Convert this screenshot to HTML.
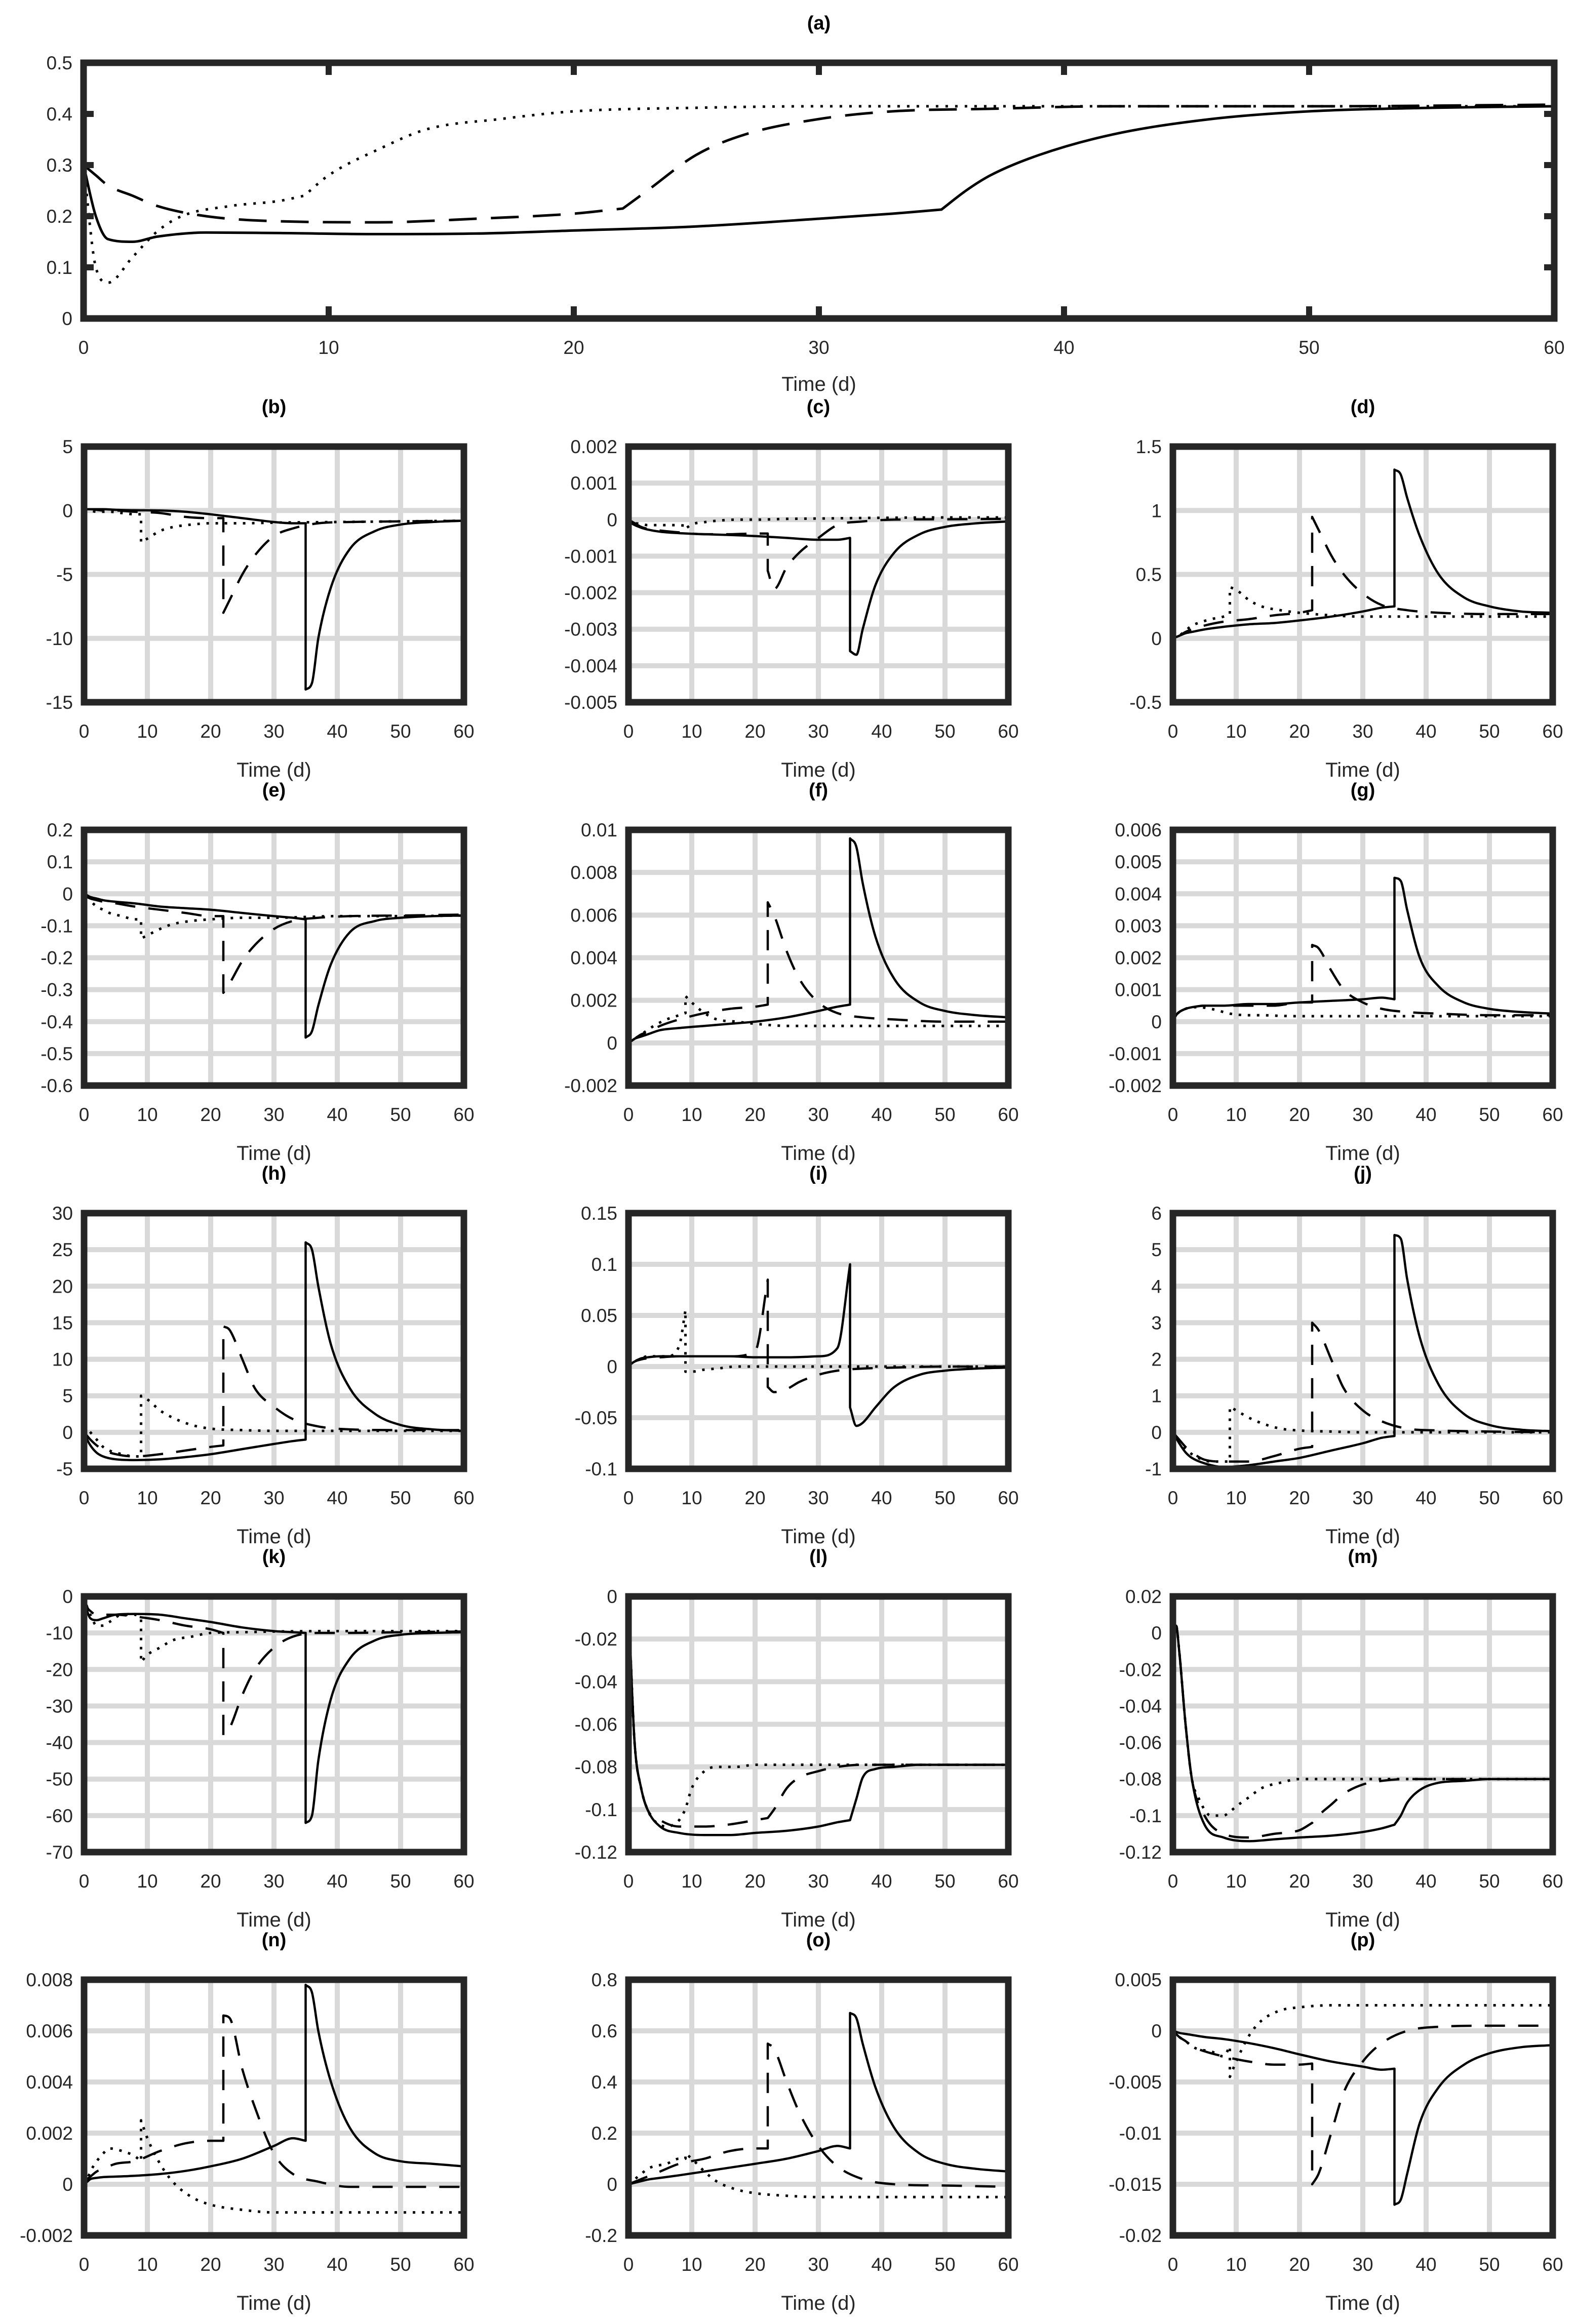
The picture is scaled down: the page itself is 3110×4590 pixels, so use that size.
<!DOCTYPE html>
<html><head><meta charset="utf-8">
<style>
html,body{margin:0;padding:0;background:#fff;}
svg{display:block;font-family:"Liberation Sans",Arial,sans-serif;}
</style></head>
<body>
<svg id="fig" xmlns="http://www.w3.org/2000/svg" width="3110" height="4590" viewBox="0 0 3110 4590"></svg>
<script>
// shared time grids
const tDot  =[0,0.5,1,2,3,4,6,8,9,9,10,12,14,17,20,25,30,40,50,60];
const tDash =[0,0.5,1,2,3,5,8,12,16,20,22,22,23,25,27,30,33,37,42,50,60];
const tSol  =[0,0.5,1,2,3,5,8,12,16,20,25,30,33,35,35,36,37,39,42,46,50,55,60];
const panelIds=['a','b','c','d','e','f','g','h','i','j','k','l','m','n','o','p'];
// y ranges
const yMin={a:0,b:-15,c:-0.005,d:-0.5,e:-0.6,f:-0.002,g:-0.002,h:-5,i:-0.1,j:-1,k:-70,l:-0.12,m:-0.12,n:-0.002,o:-0.2,p:-0.02};
const yMax={a:0.5,b:5,c:0.002,d:1.5,e:0.2,f:0.01,g:0.006,h:30,i:0.15,j:6,k:0,l:0,m:0.02,n:0.008,o:0.8,p:0.005};
const yTickLabels={
a:['0','0.1','0.2','0.3','0.4','0.5'],
b:['-15','-10','-5','0','5'],
c:['-0.005','-0.004','-0.003','-0.002','-0.001','0','0.001','0.002'],
d:['-0.5','0','0.5','1','1.5'],
e:['-0.6','-0.5','-0.4','-0.3','-0.2','-0.1','0','0.1','0.2'],
f:['-0.002','0','0.002','0.004','0.006','0.008','0.01'],
g:['-0.002','-0.001','0','0.001','0.002','0.003','0.004','0.005','0.006'],
h:['-5','0','5','10','15','20','25','30'],
i:['-0.1','-0.05','0','0.05','0.1','0.15'],
j:['-1','0','1','2','3','4','5','6'],
k:['-70','-60','-50','-40','-30','-20','-10','0'],
l:['-0.12','-0.1','-0.08','-0.06','-0.04','-0.02','0'],
m:['-0.12','-0.1','-0.08','-0.06','-0.04','-0.02','0','0.02'],
n:['-0.002','0','0.002','0.004','0.006','0.008'],
o:['-0.2','0','0.2','0.4','0.6','0.8'],
p:['-0.02','-0.015','-0.01','-0.005','0','0.005']
};
const xTickLabels=['0','10','20','30','40','50','60'];
// series values
const dotVals={
a:[0.3,0.1,0.07,0.12,0.17,0.2,0.22,0.23,0.24,0.24,0.28,0.33,0.37,0.39,0.405,0.412,0.415,0.415,0.415,0.415],
b:[0.1,0.05,0,-0.1,-0.1,-0.1,-0.2,-0.3,-0.3,-2.5,-2.2,-1.6,-1.3,-1.1,-1,-1,-0.95,-0.9,-0.85,-0.8],
c:[0,-0.0001,-0.0001,-0.00012,-0.00015,-0.00015,-0.00015,-0.00015,-0.00017,-0.00025,-0.00013,-0.00007,-0.00003,0,0,0.00002,0.00003,0.00005,0.00006,0.00006],
d:[0,0,0.02,0.06,0.1,0.12,0.15,0.17,0.19,0.4,0.38,0.3,0.25,0.22,0.2,0.18,0.17,0.17,0.17,0.17],
e:[0.02,0,-0.02,-0.04,-0.05,-0.06,-0.07,-0.08,-0.08,-0.14,-0.13,-0.11,-0.095,-0.085,-0.08,-0.075,-0.075,-0.07,-0.07,-0.068],
f:[0,0.0001,0.0002,0.0004,0.0006,0.0008,0.0011,0.0013,0.0014,0.0022,0.0019,0.0014,0.0011,0.001,0.0009,0.0008,0.0008,0.0008,0.0008,0.0008],
g:[0,0.0002,0.0003,0.0004,0.00045,0.00045,0.0004,0.0003,0.00025,0.00025,0.00022,0.0002,0.0002,0.00018,0.00017,0.00017,0.00017,0.00017,0.00017,0.00017],
h:[1,0.5,0,-1,-2,-2.5,-3,-3.3,-3.3,5,4.5,3,2,1,0.5,0.3,0.2,0.2,0.2,0.2],
i:[0,0.003,0.005,0.008,0.01,0.01,0.01,0.02,0.055,-0.005,-0.005,-0.003,-0.002,0,0,0,0,0,0,0],
j:[0,-0.1,-0.25,-0.45,-0.6,-0.7,-0.8,-0.8,-0.8,0.7,0.6,0.4,0.25,0.1,0.05,0.02,0,0,0,0],
k:[0,-3,-5,-8,-8,-7,-5,-5,-6,-18,-16,-14,-12,-11,-10,-9.8,-9.6,-9.5,-9.5,-9.5],
l:[0,-0.04,-0.07,-0.09,-0.1,-0.105,-0.108,-0.105,-0.1,-0.1,-0.09,-0.082,-0.08,-0.08,-0.079,-0.079,-0.079,-0.079,-0.079,-0.079],
m:[0,0.004,-0.01,-0.05,-0.08,-0.09,-0.1,-0.1,-0.098,-0.098,-0.095,-0.09,-0.085,-0.082,-0.08,-0.08,-0.08,-0.08,-0.08,-0.08],
n:[0,0.0002,0.0005,0.0009,0.0012,0.0014,0.0013,0.0011,0.0009,0.0025,0.0018,0.0008,0.0001,-0.0005,-0.0008,-0.001,-0.0011,-0.0011,-0.0011,-0.0011],
o:[0,0.01,0.02,0.04,0.06,0.07,0.08,0.1,0.1,0.12,0.1,0.05,0.01,-0.02,-0.035,-0.045,-0.05,-0.05,-0.05,-0.05],
p:[0,-0.0003,-0.0006,-0.001,-0.0015,-0.0018,-0.002,-0.0025,-0.0015,-0.0045,-0.003,-0.0005,0.001,0.002,0.0023,0.0025,0.0025,0.0025,0.0025,0.0025]
};
const dashVals={
a:[0.3,0.28,0.26,0.24,0.22,0.2,0.19,0.188,0.195,0.205,0.215,0.215,0.25,0.32,0.36,0.39,0.405,0.41,0.415,0.415,0.418],
b:[0.1,0.1,0.1,0.05,0,0,-0.1,-0.2,-0.5,-0.6,-0.6,-8,-7,-5,-3.5,-2,-1.4,-1,-0.9,-0.85,-0.8],
c:[0,-0.00005,-0.0001,-0.0002,-0.00025,-0.0003,-0.00035,-0.0004,-0.0004,-0.00038,-0.00038,-0.0014,-0.0019,-0.0013,-0.0009,-0.0005,-0.00015,-0.00005,0,0.00001,0.00002],
d:[0,0.01,0.02,0.05,0.07,0.1,0.13,0.15,0.18,0.2,0.22,0.95,0.85,0.65,0.5,0.35,0.26,0.22,0.2,0.19,0.19],
e:[0,-0.01,-0.015,-0.02,-0.025,-0.03,-0.04,-0.05,-0.06,-0.07,-0.07,-0.31,-0.28,-0.21,-0.16,-0.11,-0.085,-0.075,-0.07,-0.068,-0.065],
f:[0,0.0001,0.0002,0.0004,0.0005,0.0008,0.0011,0.0014,0.0016,0.0017,0.0018,0.0066,0.006,0.0043,0.003,0.0019,0.0014,0.0012,0.0011,0.001,0.001],
g:[0,0.0002,0.0003,0.0004,0.00045,0.0005,0.0005,0.0005,0.0005,0.0006,0.0006,0.0024,0.0023,0.0016,0.001,0.0006,0.0004,0.0003,0.00025,0.0002,0.0002],
h:[0,-0.5,-1,-1.8,-2.4,-3,-3.3,-3,-2.5,-2,-1.8,14.5,14,10,6,3.5,1.8,0.8,0.4,0.3,0.3],
i:[0,0.003,0.005,0.007,0.008,0.009,0.01,0.01,0.01,0.015,0.085,-0.02,-0.025,-0.022,-0.015,-0.008,-0.004,-0.002,-0.001,0,0],
j:[0,-0.1,-0.2,-0.4,-0.55,-0.75,-0.8,-0.8,-0.65,-0.45,-0.4,3,2.8,2,1.2,0.6,0.3,0.1,0.05,0.02,0],
k:[0,-3,-4,-5,-5,-5,-5.5,-6.5,-8,-9,-10,-38,-36,-27,-20,-14,-11,-10,-10,-9.8,-9.6],
l:[0,-0.04,-0.07,-0.09,-0.1,-0.105,-0.108,-0.108,-0.107,-0.105,-0.104,-0.104,-0.1,-0.09,-0.085,-0.082,-0.08,-0.079,-0.079,-0.079,-0.079],
m:[0,0.004,-0.01,-0.05,-0.08,-0.1,-0.11,-0.112,-0.11,-0.108,-0.104,-0.104,-0.1,-0.094,-0.088,-0.083,-0.081,-0.08,-0.08,-0.08,-0.08],
n:[0,0.0002,0.0003,0.0005,0.0006,0.0008,0.0009,0.0013,0.0016,0.0017,0.0017,0.0066,0.0065,0.0045,0.003,0.0012,0.0004,0.0001,-0.0001,-0.0001,-0.0001],
o:[0,0.005,0.01,0.02,0.03,0.05,0.08,0.1,0.13,0.14,0.14,0.55,0.53,0.4,0.28,0.15,0.07,0.02,0,-0.005,-0.01],
p:[0,-0.0003,-0.0006,-0.001,-0.0015,-0.002,-0.0025,-0.003,-0.0033,-0.0033,-0.0032,-0.015,-0.014,-0.01,-0.006,-0.003,-0.0012,0,0.0004,0.0005,0.0005]
};
const solVals={
a:[0.3,0.2,0.155,0.15,0.16,0.168,0.167,0.165,0.166,0.172,0.18,0.195,0.205,0.213,0.213,0.25,0.28,0.32,0.36,0.39,0.405,0.412,0.415],
b:[0.1,0.1,0.1,0.1,0.1,0.05,0.02,0,-0.1,-0.3,-0.6,-0.9,-1,-1,-14,-13.5,-10,-6,-3,-1.6,-1.1,-0.9,-0.8],
c:[0,-0.0001,-0.00015,-0.00022,-0.00027,-0.00033,-0.00037,-0.0004,-0.00042,-0.00045,-0.0005,-0.00055,-0.00055,-0.0005,-0.0036,-0.0037,-0.003,-0.0018,-0.0009,-0.0004,-0.0002,-0.0001,-0.00005],
d:[0,0.01,0.02,0.04,0.05,0.07,0.09,0.11,0.12,0.14,0.17,0.21,0.24,0.25,1.32,1.28,1.1,0.8,0.5,0.32,0.25,0.21,0.2],
e:[0,-0.005,-0.01,-0.015,-0.02,-0.025,-0.03,-0.04,-0.045,-0.05,-0.06,-0.07,-0.075,-0.08,-0.45,-0.43,-0.35,-0.22,-0.12,-0.085,-0.075,-0.07,-0.068],
f:[0,0.0001,0.0002,0.0003,0.0004,0.0006,0.0007,0.0008,0.0009,0.001,0.0012,0.0015,0.0017,0.0018,0.0096,0.0092,0.0075,0.005,0.003,0.0019,0.0015,0.0013,0.0012],
g:[0,0.0002,0.0003,0.0004,0.00045,0.0005,0.0005,0.00055,0.00055,0.0006,0.00065,0.0007,0.00075,0.0007,0.0045,0.0044,0.0035,0.002,0.0011,0.0006,0.0004,0.0003,0.00025],
h:[0,-1,-1.8,-2.8,-3.3,-3.7,-3.8,-3.7,-3.4,-3,-2.3,-1.6,-1.2,-1,26,25,20,12,6,2.5,1,0.4,0.2],
i:[0,0.003,0.005,0.008,0.009,0.01,0.01,0.01,0.01,0.009,0.009,0.01,0.018,0.1,-0.04,-0.058,-0.055,-0.04,-0.02,-0.008,-0.004,-0.002,-0.001],
j:[0,-0.15,-0.3,-0.55,-0.7,-0.85,-0.95,-0.9,-0.8,-0.7,-0.5,-0.3,-0.15,-0.1,5.4,5.3,4.2,2.6,1.3,0.5,0.2,0.07,0.03],
k:[0,-4,-6,-6.5,-6,-5,-4.8,-5,-6,-7,-8.5,-9.5,-9.8,-10,-62,-60,-45,-28,-17,-12,-10.5,-10,-9.8],
l:[0,-0.04,-0.07,-0.09,-0.1,-0.108,-0.111,-0.112,-0.112,-0.111,-0.11,-0.108,-0.106,-0.105,-0.105,-0.095,-0.085,-0.081,-0.08,-0.079,-0.079,-0.079,-0.079],
m:[0,0.004,-0.01,-0.05,-0.08,-0.105,-0.112,-0.114,-0.113,-0.112,-0.111,-0.109,-0.107,-0.105,-0.105,-0.1,-0.093,-0.086,-0.082,-0.081,-0.08,-0.08,-0.08],
n:[0,0.0001,0.0002,0.00025,0.00028,0.0003,0.00033,0.0004,0.00052,0.0007,0.001,0.0015,0.0018,0.0017,0.0078,0.0075,0.006,0.004,0.0022,0.0012,0.0009,0.0008,0.0007],
o:[0,0.003,0.006,0.012,0.018,0.025,0.035,0.05,0.065,0.08,0.1,0.13,0.15,0.14,0.67,0.65,0.55,0.38,0.22,0.12,0.08,0.06,0.05],
p:[0,-0.0001,-0.0002,-0.0003,-0.0004,-0.0006,-0.0008,-0.0012,-0.0017,-0.0023,-0.003,-0.0035,-0.0038,-0.0037,-0.017,-0.0165,-0.014,-0.009,-0.0055,-0.0033,-0.0022,-0.0016,-0.0014]
};

const NS='http://www.w3.org/2000/svg';
const svg=document.getElementById('fig');
function mk(tag,attrs,parent){const e=document.createElementNS(NS,tag);for(const k in attrs)e.setAttribute(k,attrs[k]);(parent||svg).appendChild(e);return e;}

// monotone cubic path through screen points, split at vertical jumps
function smoothPath(px,py){
  let d='';
  let segs=[];let cur=[0];
  for(let i=1;i<px.length;i++){
    if(Math.abs(px[i]-px[i-1])<0.01){segs.push(cur);cur=[i];}else cur.push(i);
  }
  segs.push(cur);
  segs.forEach((s,si)=>{
    const n=s.length;
    const X=s.map(i=>px[i]),Y=s.map(i=>py[i]);
    d+=(si===0?'M':'L')+X[0].toFixed(1)+' '+Y[0].toFixed(1);
    if(n<2)return;
    const dl=[],m=new Array(n);
    for(let i=0;i<n-1;i++)dl.push((Y[i+1]-Y[i])/(X[i+1]-X[i]));
    m[0]=dl[0];m[n-1]=dl[n-2];
    for(let i=1;i<n-1;i++){m[i]=(dl[i-1]*dl[i]<=0)?0:(dl[i-1]+dl[i])/2;}
    for(let i=0;i<n-1;i++){
      if(dl[i]===0){m[i]=0;m[i+1]=0;continue;}
      const a=m[i]/dl[i],b=m[i+1]/dl[i],h=a*a+b*b;
      if(h>9){const t=3/Math.sqrt(h);m[i]=t*a*dl[i];m[i+1]=t*b*dl[i];}
    }
    for(let i=0;i<n-1;i++){
      const h=(X[i+1]-X[i])/3;
      d+=' C'+(X[i]+h).toFixed(1)+' '+(Y[i]+m[i]*h).toFixed(1)+' '+(X[i+1]-h).toFixed(1)+' '+(Y[i+1]-m[i+1]*h).toFixed(1)+' '+X[i+1].toFixed(1)+' '+Y[i+1].toFixed(1);
    }
  });
  return d;
}

panelIds.forEach((id,idx)=>{
  let L,T,W,H;
  if(id==='a'){L=165;T=124;W=2904;H=505;}
  else{const k=idx-1;const c=k%3,r=Math.floor(k/3);L=166+c*1075;T=882+r*757;W=750;H=505;}
  const g=mk('g',{});
  
  
  const xs=v=>L+v/60*W;
  const ys=v=>T+H-(v-yMin[id])/(yMax[id]-yMin[id])*H;
  const yl=yTickLabels[id];
  const yv=yl.map(Number);
  if(id!=='a'){
    const gg=mk('g',{},g);
    
    
    xTickLabels.forEach(s=>{const v=+s;if(v>0&&v<60)mk('line',{x1:xs(v),x2:xs(v),y1:T,y2:T+H,stroke:'#d9d9d9','stroke-width':10},gg);});
    yv.forEach(v=>{if(v>yMin[id]&&v<yMax[id])mk('line',{x1:L,x2:L+W,y1:ys(v),y2:ys(v),stroke:'#d9d9d9','stroke-width':10},gg);});
  }
  const cp=mk('clipPath',{id:'cp'+id},g);
  mk('rect',{x:L,y:T,width:W,height:H},cp);
  const sg=mk('g',{'clip-path':'url(#cp'+id+')'},g);
  const big=id==='a';
  const series=[
    {t:tDot,v:dotVals[id],name:'dotted-series',dash:big?'5 14':'5 13',w:5},
    {t:tDash,v:dashVals[id],name:'dashed-series',dash:big?'55 28':'40 26',w:big?5:4.5},
    {t:tSol,v:solVals[id],name:'solid-series',dash:'none',w:big?5:4.5}
  ];
  series.forEach(s=>{
    const d=smoothPath(s.t.map(xs),s.v.map(ys));
    const p=mk('path',{d:d,fill:'none',stroke:'#000','stroke-width':s.w,'stroke-dasharray':s.dash,'stroke-linejoin':'round'},sg);
    
    
  });
  if(big){
    xTickLabels.forEach(s=>{const v=+s;if(v>0&&v<60){mk('line',{x1:xs(v),x2:xs(v),y1:T,y2:T+24,stroke:'#262626','stroke-width':12},g);mk('line',{x1:xs(v),x2:xs(v),y1:T+H,y2:T+H-24,stroke:'#262626','stroke-width':12},g);}});
    yv.forEach(v=>{if(v>yMin[id]&&v<yMax[id]){mk('line',{x1:L,x2:L+20,y1:ys(v),y2:ys(v),stroke:'#262626','stroke-width':12},g);mk('line',{x1:L+W,x2:L+W-20,y1:ys(v),y2:ys(v),stroke:'#262626','stroke-width':12},g);}});
  }
  const fr=mk('rect',{x:L,y:T,width:W,height:H,fill:'none',stroke:'#262626','stroke-width':13},g);
  
  
  yl.forEach((s,i)=>{
    const tx=mk('text',{x:L-22,y:ys(yv[i])+13,'text-anchor':'end','font-size':37,fill:'#262626'},g);
    tx.textContent=s;
    
    
  });
  xTickLabels.forEach(s=>{
    const tx=mk('text',{x:xs(+s),y:T+H+70,'text-anchor':'middle','font-size':37,fill:'#262626'},g);
    tx.textContent=s;
    
    
  });
  const xt=mk('text',{x:L+W/2,y:T+H+(big?143:147),'text-anchor':'middle','font-size':40,fill:'#262626'},g);
  xt.textContent='Time (d)';
  
  
  const tt=mk('text',{x:L+W/2,y:T-66,'text-anchor':'middle','font-size':38,'font-weight':'bold',fill:'#000'},g);
  tt.textContent='('+id+')';
  
  
});
</script>
</body></html>
